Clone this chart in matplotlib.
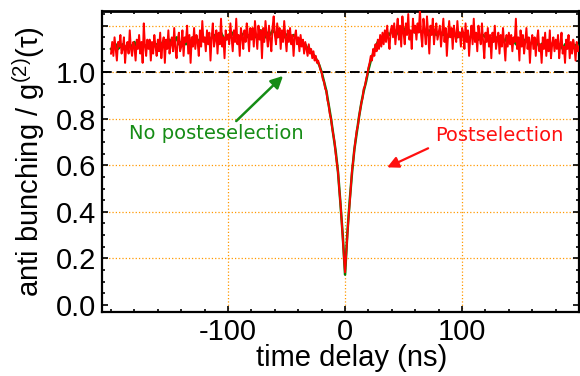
import numpy as np
import matplotlib
matplotlib.use("Agg")
import matplotlib.pyplot as plt
from matplotlib.ticker import MultipleLocator

# time delay grid (ns)
t_red_start, t_red_step = -200, 1
t_green_start, t_green_step = -200, 2

# postselection (red), 1 ns bins, -200 .. 200
g2_post = [
    1.08, 1.13, 1.07, 1.15, 1.10, 1.05, 1.13, 1.11, 1.16, 1.08, 1.10, 1.15, 1.04, 1.11, 1.13, 1.08, 1.18, 1.10, 1.07, 1.13,
    1.11, 1.05, 1.14, 1.10, 1.16, 1.08, 1.13, 1.04, 1.21, 1.11, 1.07, 1.14, 1.10, 1.14, 1.05, 1.13, 1.08, 1.16, 1.11, 1.07,
    1.14, 1.09, 1.17, 1.06, 1.12, 1.15, 1.04, 1.14, 1.10, 1.18, 1.08, 1.12, 1.15, 1.09, 1.19, 1.10, 1.06, 1.14, 1.17, 1.09,
    1.11, 1.18, 1.07, 1.15, 1.13, 1.20, 1.08, 1.16, 1.04, 1.15, 1.11, 1.19, 1.10, 1.16, 1.13, 1.07, 1.18, 1.11, 1.22, 1.13,
    1.15, 1.09, 1.18, 1.12, 1.17, 1.05, 1.15, 1.21, 1.11, 1.14, 1.18, 1.08, 1.17, 1.12, 1.23, 1.11, 1.15, 1.06, 1.18, 1.14,
    1.16, 1.12, 1.21, 1.15, 1.09, 1.18, 1.13, 1.23, 1.12, 1.16, 1.07, 1.19, 1.15, 1.10, 1.18, 1.13, 1.21, 1.16, 1.09, 1.19,
    1.14, 1.19, 1.11, 1.22, 1.16, 1.10, 1.20, 1.14, 1.18, 1.06, 1.19, 1.13, 1.22, 1.16, 1.11, 1.20, 1.14, 1.09, 1.19, 1.24,
    1.16, 1.12, 1.21, 1.15, 1.19, 1.10, 1.18, 1.13, 1.22, 1.15, 1.09, 1.18, 1.13, 1.19, 1.12, 1.16, 1.07, 1.15, 1.18, 1.12,
    1.15, 1.09, 1.16, 1.11, 1.14, 1.08, 1.13, 1.10, 1.07, 1.12, 1.08, 1.10, 1.06, 1.09, 1.05, 1.07, 1.04, 1.05, 1.03, 1.01,
    1.00, 0.97, 0.96, 0.93, 0.92, 0.88, 0.86, 0.82, 0.80, 0.76, 0.73, 0.70, 0.65, 0.61, 0.57, 0.50, 0.44, 0.37, 0.29, 0.21,
    0.14,
    0.22, 0.30, 0.38, 0.44, 0.51, 0.58, 0.62, 0.67, 0.71, 0.75, 0.77, 0.81, 0.84, 0.87, 0.89, 0.93, 0.94, 0.97, 0.99, 1.02,
    1.04, 1.07, 1.05, 1.10, 1.07, 1.12, 1.09, 1.14, 1.10, 1.16, 1.11, 1.17, 1.12, 1.18, 1.13, 1.20, 1.14, 1.10, 1.18, 1.20,
    1.15, 1.21, 1.12, 1.18, 1.23, 1.14, 1.20, 1.11, 1.24, 1.17, 1.12, 1.21, 1.16, 1.25, 1.14, 1.18, 1.10, 1.23, 1.17, 1.20,
    1.14, 1.21, 1.17, 1.27, 1.16, 1.11, 1.23, 1.18, 1.12, 1.24, 1.17, 1.08, 1.20, 1.16, 1.23, 1.12, 1.18, 1.21, 1.14, 1.17,
    1.20, 1.11, 1.17, 1.23, 1.13, 1.19, 1.07, 1.16, 1.22, 1.15, 1.19, 1.10, 1.20, 1.16, 1.13, 1.22, 1.15, 1.17, 1.11, 1.19,
    1.17, 1.10, 1.21, 1.13, 1.18, 1.07, 1.15, 1.20, 1.12, 1.23, 1.13, 1.17, 1.09, 1.20, 1.15, 1.12, 1.21, 1.13, 1.06, 1.17,
    1.13, 1.19, 1.11, 1.16, 1.06, 1.17, 1.13, 1.20, 1.10, 1.14, 1.17, 1.08, 1.16, 1.11, 1.19, 1.12, 1.05, 1.16, 1.11, 1.17,
    1.12, 1.16, 1.09, 1.15, 1.13, 1.23, 1.10, 1.15, 1.05, 1.18, 1.11, 1.16, 1.08, 1.13, 1.19, 1.10, 1.15, 1.04, 1.13, 1.16,
    1.10, 1.15, 1.07, 1.14, 1.18, 1.09, 1.12, 1.04, 1.15, 1.10, 1.17, 1.07, 1.14, 1.09, 1.18, 1.06, 1.12, 1.15, 1.09, 1.14,
    1.10, 1.16, 1.06, 1.12, 1.17, 1.08, 1.11, 1.04, 1.14, 1.10, 1.16, 1.06, 1.13, 1.08, 1.14, 1.11, 1.05, 1.13, 1.09, 1.11,
]

# no postselection (green), 2 ns bins, -200 .. 200
g2_nopost = [
    1.10, 1.11, 1.12, 1.10, 1.11, 1.12, 1.11, 1.10, 1.12, 1.11, 1.13, 1.11, 1.12, 1.10, 1.12, 1.11, 1.13, 1.12, 1.11, 1.12,
    1.12, 1.13, 1.11, 1.13, 1.12, 1.14, 1.12, 1.13, 1.15, 1.12, 1.13, 1.14, 1.12, 1.14, 1.13, 1.15, 1.13, 1.14, 1.12, 1.14,
    1.14, 1.15, 1.13, 1.15, 1.16, 1.14, 1.15, 1.17, 1.15, 1.14, 1.16, 1.15, 1.17, 1.15, 1.16, 1.14, 1.16, 1.17, 1.15, 1.16,
    1.16, 1.17, 1.15, 1.16, 1.18, 1.16, 1.15, 1.17, 1.16, 1.18, 1.17, 1.15, 1.16, 1.17, 1.15, 1.16, 1.17, 1.15, 1.16, 1.15,
    1.14, 1.13, 1.12, 1.12, 1.10, 1.10, 1.08, 1.07, 1.05, 1.03, 1.00, 0.96, 0.92, 0.86, 0.80, 0.73, 0.66, 0.57, 0.44, 0.30,
    0.13,
    0.31, 0.45, 0.57, 0.67, 0.74, 0.81, 0.87, 0.92, 0.96, 1.01, 1.05, 1.08, 1.11, 1.13, 1.14, 1.15, 1.16, 1.17, 1.16, 1.18,
    1.17, 1.18, 1.16, 1.18, 1.19, 1.17, 1.18, 1.16, 1.18, 1.17, 1.19, 1.18, 1.17, 1.18, 1.16, 1.18, 1.17, 1.18, 1.16, 1.17,
    1.17, 1.16, 1.17, 1.15, 1.16, 1.17, 1.16, 1.15, 1.17, 1.16, 1.15, 1.16, 1.14, 1.16, 1.15, 1.16, 1.14, 1.15, 1.16, 1.15,
    1.14, 1.15, 1.13, 1.14, 1.15, 1.13, 1.14, 1.13, 1.15, 1.14, 1.13, 1.14, 1.12, 1.14, 1.13, 1.12, 1.14, 1.13, 1.12, 1.13,
    1.12, 1.13, 1.11, 1.12, 1.13, 1.11, 1.12, 1.11, 1.13, 1.12, 1.11, 1.12, 1.10, 1.12, 1.11, 1.12, 1.10, 1.11, 1.12, 1.11,
]

x_ticks = [-100, 0, 100]
y_ticks = [0.0, 0.2, 0.4, 0.6, 0.8, 1.0, 1.2]
y_ticklabels = ["0.0", "0.2", "0.4", "0.6", "0.8", "1.0", ""]

t_red = t_red_start + t_red_step * np.arange(len(g2_post))
t_green = t_green_start + t_green_step * np.arange(len(g2_nopost))

plt.rcParams["font.family"] = ["Liberation Sans", "DejaVu Sans"]
plt.rcParams["axes.unicode_minus"] = False
plt.rcParams["mathtext.fontset"] = "custom"
plt.rcParams["mathtext.rm"] = "Liberation Sans"
plt.rcParams["mathtext.it"] = "Liberation Sans:italic"

fig = plt.figure(figsize=(5.8, 3.76), dpi=100)
ax = fig.add_axes([0.1753, 0.170, 0.8231, 0.8007])

ax.plot(t_green, g2_nopost, color="#008000", lw=1.8, zorder=3)
ax.plot(t_red, g2_post, color="#ff0000", lw=1.4, zorder=4)
ax.axhline(1.0, color="black", lw=1.4, dashes=(5, 2.5), zorder=2)

ax.set_xlim(-208, 200)
ax.set_ylim(-0.031, 1.263)
ax.set_xticks(x_ticks)
ax.set_yticks(y_ticks)
ax.set_yticklabels(y_ticklabels)
ax.xaxis.set_minor_locator(MultipleLocator(20))
ax.yaxis.set_minor_locator(MultipleLocator(0.05))
ax.grid(True, which="major", color="#ff9900", ls=":", lw=0.9, zorder=1)
ax.yaxis.get_gridlines()[0].set_visible(False)

ax.tick_params(which="both", direction="in", top=True, right=True,
               labelsize=21, width=1.2)
ax.tick_params(which="major", length=4, pad=4)
ax.tick_params(which="minor", length=2.5)
for sp in ax.spines.values():
    sp.set_linewidth(1.6)
ax.spines["top"].set_linewidth(2.0)

ax.set_xlabel("time delay (ns)", fontsize=21)
ax.set_ylabel(r"anti bunching / g$^{(2)}$(τ)", fontsize=21, labelpad=6)
ax.xaxis.set_label_coords(0.524, -0.105)

ax.annotate("", xy=(-53, 0.984), xytext=(-93, 0.79),
            arrowprops=dict(arrowstyle="-|>", color="#158c15", lw=1.8,
                            mutation_scale=18, shrinkA=0, shrinkB=0))
ax.annotate("", xy=(36, 0.591), xytext=(71, 0.673),
            arrowprops=dict(arrowstyle="-|>", color="#ff1010", lw=1.6,
                            mutation_scale=17, shrinkA=0, shrinkB=0))
ax.text(-110, 0.735, "No posteselection", color="#158c15", fontsize=14,
        family="DejaVu Sans", ha="center", va="center")
ax.text(132, 0.728, "Postselection", color="#ff1010", fontsize=14,
        family="DejaVu Sans", ha="center", va="center")

fig.savefig("out.png", dpi=100)
